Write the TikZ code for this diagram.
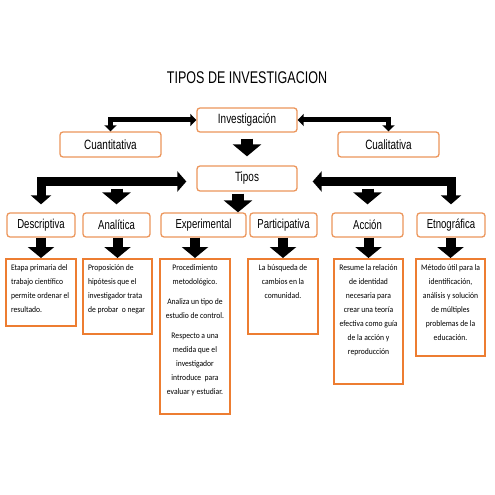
\documentclass[tikz,border=0pt]{standalone}
\usepackage{fontspec}
\usepackage{xcolor}
\usepackage{tikz}
\usetikzlibrary{positioning}
\usetikzlibrary{arrows.meta}

\setmainfont{Liberation Sans}
\newfontfamily\narrowfont{Liberation Sans}[FakeStretch=0.74]
\newfontfamily\bodyfont{Carlito}[FakeStretch=0.9]

\definecolor{lineorange}{RGB}{236,150,92}
\definecolor{boxorange}{RGB}{237,125,49}

\newcommand\boxtext[3]{\parbox[t][#1][t]{#2}{#3}}

\begin{document}
\begin{tikzpicture}[x=1bp,y=-1bp]
            \tikzset{typebox/.style = {draw=lineorange, line width=1.3bp, rounded corners=3bp, fill=white, inner sep=0pt, font=\narrowfont\fontsize{13.5}{15}\selectfont}}
            \tikzset{descbox/.style = {draw=boxorange, line width=1.8bp, fill=white, inner xsep=5bp, inner ysep=6bp, anchor=north, font=\bodyfont\fontsize{8.5}{14}\selectfont}}
            \tikzset{thinconn/.style = {line width=5bp, {Triangle[length=6bp,width=12bp]}-{Triangle[length=6bp,width=12bp]}}}
            \tikzset{wideconn/.style = {line width=9bp, {Triangle[length=9bp,width=20bp]}-{Triangle[length=9bp,width=20bp]}}}
            \tikzset{fatarrow/.style = {line width=12bp, -{Triangle[length=12bp,width=28bp]}}}
            \tikzset{smallarrow/.style = {line width=10bp, -{Triangle[length=11bp,width=26bp]}}}

            \useasboundingbox (0,0) rectangle (495,495);
            \fill[white] (0,0) rectangle (495,495);

            % title
            \node[font=\narrowfont\fontsize{17}{19}\selectfont] (title) at (247,78) {TIPOS DE INVESTIGACION};

            % top level
            \node[typebox, minimum width=100bp, minimum height=24bp] (inv) at (247,120) {Investigación};
            \node[typebox, minimum width=101bp, minimum height=25bp] (cuanti) at (110.5,144.5) {Cuantitativa};
            \node[typebox, minimum width=101bp, minimum height=25bp] (cuali) at (388.5,144.5) {Cualitativa};
            \node[typebox, minimum width=100bp, minimum height=25bp] (tipos) at (247,178.5) {Tipos};

            % types
            \node[typebox, font=\narrowfont\fontsize{13}{15}\selectfont, minimum width=68bp, minimum height=24bp] (desc) at (41,225) {Descriptiva};
            \node[typebox, font=\narrowfont\fontsize{13}{15}\selectfont, minimum width=67bp, minimum height=24bp] (anal) at (116.5,225) {Analítica};
            \node[typebox, font=\narrowfont\fontsize{13}{15}\selectfont, minimum width=85bp, minimum height=24bp] (exper) at (203.5,225) {Experimental};
            \node[typebox, font=\narrowfont\fontsize{13}{15}\selectfont, minimum width=67bp, minimum height=24bp] (part) at (283.5,225) {Participativa};
            \node[typebox, font=\narrowfont\fontsize{13}{15}\selectfont, minimum width=71bp, minimum height=24bp] (accion) at (367.5,225) {Acción};
            \node[typebox, font=\narrowfont\fontsize{13}{15}\selectfont, minimum width=68bp, minimum height=24bp] (etno) at (451,225) {Etnográfica};

            % descriptions
            \node[descbox] (d1) at (41,258) {\boxtext{55bp}{60bp}{\raggedright Etapa primaria del\\ trabajo científico\\ permite ordenar el\\ resultado.}};
            \node[descbox] (d2) at (117.5,258) {\boxtext{63bp}{59bp}{\raggedright Proposición de\\ hipótesis que el\\ investigador trata\\ de probar~ o negar}};
            \node[descbox] (d3) at (195,258) {\boxtext{143bp}{60bp}{\centering Procedimiento\\ metodológico.\par\vspace{6bp}
                Analiza un tipo de\\ estudio de control.\par\vspace{6bp}
                Respecto a una\\ medida que el\\ investigador\\ introduce~ para\\ evaluar y estudiar.}};
            \node[descbox] (d4) at (283,258) {\boxtext{63bp}{60bp}{\centering La búsqueda de\\ cambios en la\\ comunidad.}};
            \node[descbox] (d5) at (368.5,258) {\boxtext{113bp}{59bp}{\centering Resume la relación\\ de identidad\\ necesaria para\\ crear una teoría\\ efectiva como guía\\ de la acción y\\ reproducción}};
            \node[descbox] (d6) at (450.5,258) {\boxtext{85bp}{59bp}{\centering Método útil para la\\ identificación,\\ análisis y solución\\ de múltiples\\ problemas de la\\ educación.}};

            % top connectors
            \draw[thinconn] (cuanti.north) |- (inv.west);
            \draw[thinconn] (cuali.north) |- (inv.east);
            \draw[fatarrow, shorten <=6bp, shorten >=9bp] (inv.south) -- (tipos.north);

            % type connectors
            \draw[wideconn, shorten <=8bp, shorten >=10bp] (desc.north) |- ([yshift=-3bp]tipos.west);
            \draw[wideconn, shorten <=8bp, shorten >=15bp] (etno.north) |- ([yshift=-3bp]tipos.east);
            \draw[fatarrow, shorten <=10bp, shorten >=8bp] (anal.north |- tipos.west) -- (anal.north);
            \draw[fatarrow, shorten <=10bp, shorten >=8bp] (accion.north |- tipos.east) -- (accion.north);
            \draw[fatarrow, shorten <=2bp] ([xshift=-9bp]tipos.south) -- ([xshift=-9bp]tipos.south |- exper.north);

            % description arrows
            \foreach \t/\d in {desc/d1, anal/d2, exper/d3, part/d4, accion/d5, etno/d6}
                \draw[smallarrow] (\d.north |- \t.south) -- (\d.north);

        \end{tikzpicture}
\end{document}
